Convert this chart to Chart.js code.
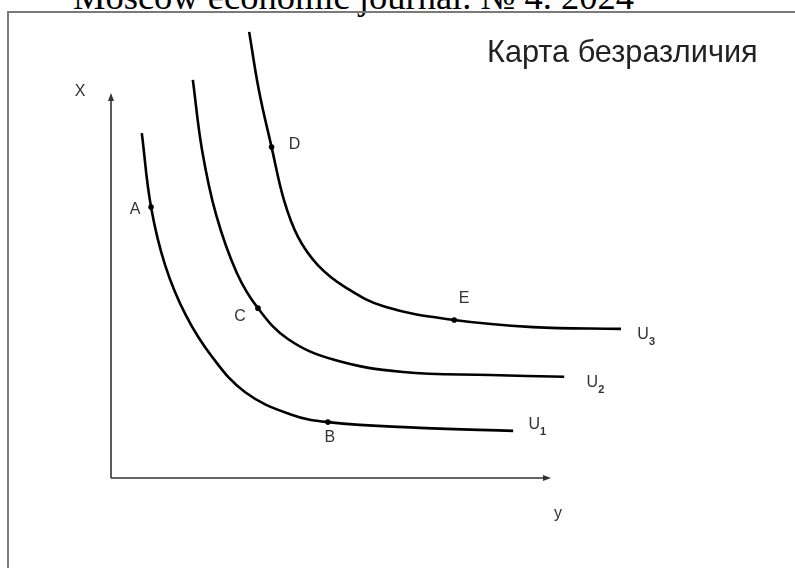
<!DOCTYPE html>
<html>
<head>
<meta charset="utf-8">
<script src="https://cdn.jsdelivr.net/npm/chart.js@4/dist/chart.umd.min.js"></script>
<style>
  html, body { margin: 0; padding: 0; background: #fff; overflow: hidden; }
  #wrap { position: relative; width: 795px; height: 568px; }
  #header { position: absolute; left: 73px; top: -21px; font-family: "Liberation Serif", "Times New Roman", serif; font-size: 36.5px; line-height: 36px; color: #000; white-space: nowrap; }
  #frame { position: absolute; left: 7px; top: 11px; width: 800px; height: 570px; border-left: 2px solid #7a7a7a; border-top: 2px solid #7a7a7a; box-sizing: border-box; }
  canvas { position: absolute; left: 0; top: 0; }
</style>
</head>
<body>
<div id="wrap">
  <div id="header">Moscow economic journal. № 4. 2024</div>
  <div id="frame"></div>
  <canvas id="c" width="795" height="568"></canvas>
</div>
<script>
// ---- Data ----
const chartTitle = "Карта безразличия";
const axisLabelVertical = "X";
const axisLabelHorizontal = "y";

const curveNames = ["U1", "U2", "U3"];
const curveSubs = ["1", "2", "3"];

const u1X = [0.70, 0.91, 1.23, 1.70, 2.30, 3.05, 4.07, 4.93, 7.02, 9.14];
const u1Y = [7.84, 6.16, 4.84, 3.70, 2.75, 1.95, 1.45, 1.27, 1.14, 1.07];

const u2X = [1.86, 2.07, 2.39, 2.86, 3.34, 4.02, 5.09, 6.64, 8.61, 10.30];
const u2Y = [9.05, 7.45, 5.98, 4.66, 3.86, 3.16, 2.68, 2.41, 2.34, 2.30];

const u3X = [3.14, 3.36, 3.65, 3.93, 4.25, 4.70, 5.32, 6.23, 7.80, 9.59, 11.59];
const u3Y = [10.14, 8.82, 7.52, 6.32, 5.48, 4.84, 4.34, 3.89, 3.59, 3.43, 3.39];

const pointNames = ["A", "B", "C", "D", "E"];
const pointX = [0.91, 4.93, 3.34, 3.65, 7.80];
const pointY = [6.16, 1.27, 3.86, 7.52, 3.59];

const axisXMax = 10;
const axisYMax = 8.75;

// ---- Styles (positions of text relative to marks) ----
const pointLabelOffsets = [[-16, 3], [2, 15], [-18, 8], [23, -3], [10, -21]];
const curveLabelOffsets = [[21, -6], [28, 6], [22, 6]];

function toXY(xs, ys) { return xs.map((x, i) => ({ x: x, y: ys[i] })); }

const curveSets = [[u1X, u1Y], [u2X, u2Y], [u3X, u3Y]];

const datasets = curveSets.map((s, i) => ({
  label: curveNames[i],
  data: toXY(s[0], s[1]),
  showLine: true,
  borderColor: "#000",
  borderWidth: 2.6,
  pointRadius: 0,
  tension: 0.4,
  capBezierPoints: false,
  fill: false,
  clip: false
}));

datasets.push({
  label: "points",
  data: toXY(pointX, pointY),
  showLine: false,
  pointRadius: 2.8,
  pointBackgroundColor: "#000",
  pointBorderWidth: 0,
  clip: false
});

const overlay = {
  id: "overlay",
  afterDatasetsDraw(chart) {
    const ctx = chart.ctx;
    const xs = chart.scales.x, ys = chart.scales.y;
    const ox = xs.getPixelForValue(0), oy = ys.getPixelForValue(0);
    const ex = xs.getPixelForValue(axisXMax), ty = ys.getPixelForValue(axisYMax);
    ctx.save();
    // axes
    ctx.strokeStyle = "#333";
    ctx.fillStyle = "#333";
    ctx.lineWidth = 1.6;
    ctx.beginPath();
    ctx.moveTo(ox, oy); ctx.lineTo(ex - 4, oy);
    ctx.moveTo(ox, oy); ctx.lineTo(ox, ty + 4);
    ctx.stroke();
    ctx.beginPath();
    ctx.moveTo(ex, oy); ctx.lineTo(ex - 8, oy - 3); ctx.lineTo(ex - 8, oy + 3); ctx.closePath();
    ctx.fill();
    ctx.beginPath();
    ctx.moveTo(ox, ty); ctx.lineTo(ox - 3, ty + 8); ctx.lineTo(ox + 3, ty + 8); ctx.closePath();
    ctx.fill();

    ctx.textAlign = "center";
    ctx.textBaseline = "middle";
    ctx.fillStyle = "#333";
    ctx.font = '16px "Liberation Sans", Arial, sans-serif';
    ctx.fillText(axisLabelVertical, ox - 31, ty - 1);
    ctx.fillText(axisLabelHorizontal, ex + 7, oy + 36);

    // point labels
    pointNames.forEach((n, i) => {
      const px = xs.getPixelForValue(pointX[i]), py = ys.getPixelForValue(pointY[i]);
      ctx.fillText(n, px + pointLabelOffsets[i][0], py + pointLabelOffsets[i][1]);
    });

    // curve labels
    curveSets.forEach((s, i) => {
      const last = s[0].length - 1;
      const px = xs.getPixelForValue(s[0][last]), py = ys.getPixelForValue(s[1][last]);
      const cx = px + curveLabelOffsets[i][0], cy = py + curveLabelOffsets[i][1];
      ctx.font = '16px "Liberation Sans", Arial, sans-serif';
      ctx.fillText("U", cx, cy);
      ctx.font = 'bold 11px "Liberation Sans", Arial, sans-serif';
      ctx.fillText(curveSubs[i], cx + 9, cy + 7);
    });

    // title
    ctx.textAlign = "left";
    ctx.textBaseline = "alphabetic";
    ctx.fillStyle = "#222";
    ctx.font = '30.7px "Liberation Sans", Arial, sans-serif';
    ctx.fillText(chartTitle, 487, 62);
    ctx.restore();
  }
};

new Chart(document.getElementById("c"), {
  type: "scatter",
  data: { datasets: datasets },
  options: {
    responsive: false,
    devicePixelRatio: 1,
    animation: false,
    layout: { padding: { left: 111, right: 244, top: 93, bottom: 90 } },
    plugins: { legend: { display: false }, tooltip: { enabled: false }, title: { display: false } },
    scales: {
      x: { type: "linear", min: 0, max: axisXMax, display: false },
      y: { type: "linear", min: 0, max: axisYMax, display: false }
    }
  },
  plugins: [overlay]
});
</script>
</body>
</html>
